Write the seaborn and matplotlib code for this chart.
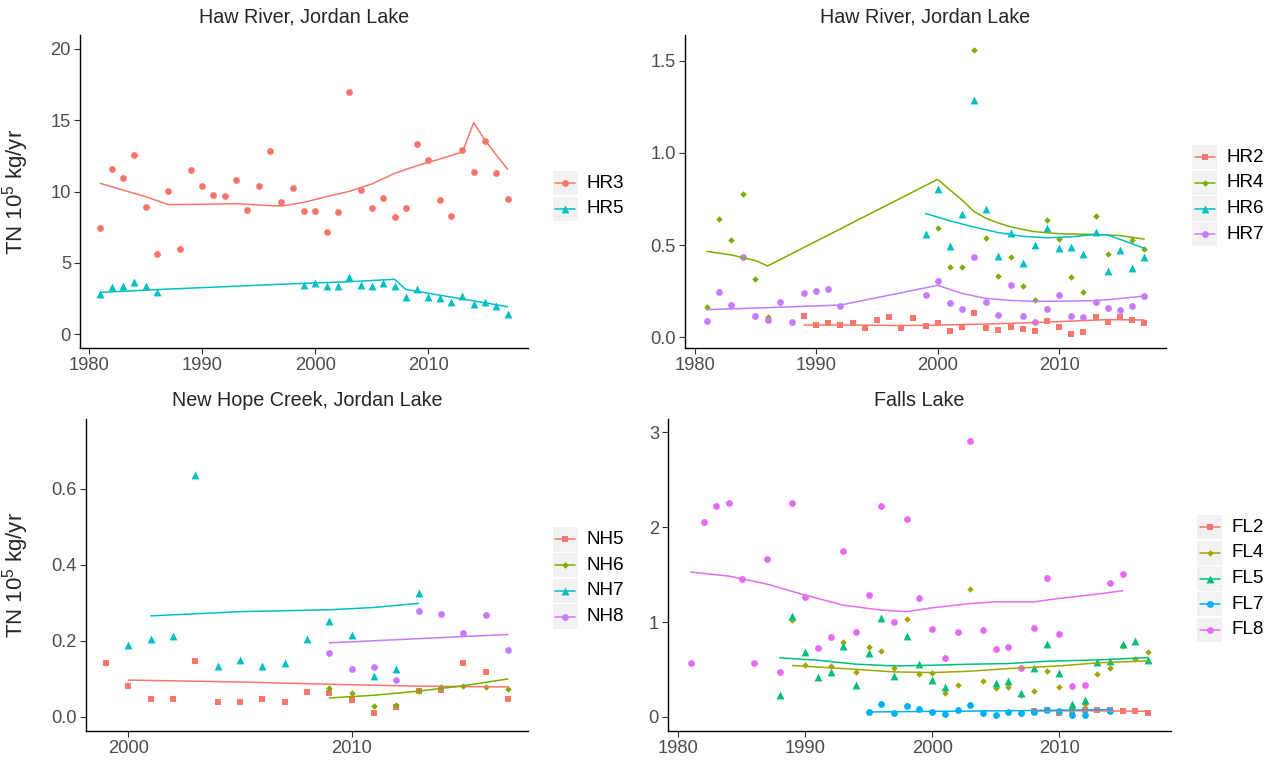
import numpy as np
import pandas as pd
import matplotlib
matplotlib.use("Agg")
import matplotlib.pyplot as plt
import seaborn as sns
from matplotlib.patches import Rectangle

# ---- colours / shapes (ggplot hue palette) ----
RED, CYAN = "#F8766D", "#00BFC4"
GREEN4, PURPLE4 = "#7CAE00", "#C77CFF"
OLIVE5, GREEN5, BLUE5, PINK5 = "#A3A500", "#00BF7D", "#00B0F6", "#E76BF3"

# ---- panel 1: Haw River (HR3, HR5) ----
hr3_years = list(range(1981, 2018))
hr3_tn = [7.42, 11.58, 10.95, 12.58, 8.89, 5.64, 10.04, 5.99, 11.51, 10.41,
          9.75, 9.68, 10.78, 8.70, 10.41, 12.87, 9.26, 10.22, 8.61, 8.65,
          7.18, 8.56, 17.0, 10.13, 8.82, 9.54, 8.21, 8.87, 13.31, 12.19,
          9.38, 8.28, 12.94, 11.37, 13.52, 11.30, 9.50]
hr3_fit_years = [1981, 1983, 1985, 1987, 1990, 1993, 1995, 1997, 1999, 2001,
                 2003, 2005, 2007, 2009, 2011, 2013, 2014, 2015, 2016, 2017]
hr3_fit = [10.57, 10.1, 9.64, 9.08, 9.1, 9.15, 9.05, 8.98, 9.24, 9.64,
           10.01, 10.53, 11.27, 11.81, 12.28, 12.77, 14.83, 13.6, 12.56, 11.56]

hr5_years = [1981, 1982, 1983, 1984, 1985, 1986] + list(range(1999, 2018))
hr5_tn = [2.81, 3.27, 3.37, 3.63, 3.35, 2.92, 3.42, 3.56, 3.39, 3.37, 3.98,
          3.42, 3.37, 3.56, 3.37, 2.60, 3.16, 2.60, 2.50, 2.22, 2.69, 2.13,
          2.27, 1.94, 1.43]
hr5_fit_years = [1981, 1986, 1999, 2003, 2007, 2008, 2010, 2013, 2017]
hr5_fit = [2.92, 3.12, 3.56, 3.67, 3.84, 3.13, 2.86, 2.46, 1.92]

# ---- panel 2: Haw River (HR2, HR4, HR6, HR7) ----
hr2_years = list(range(1989, 2018))
hr2_tn = [0.116, 0.069, 0.076, 0.069, 0.076, 0.051, 0.094, 0.110, 0.051, 0.105,
          0.061, 0.080, 0.036, 0.058, 0.134, 0.051, 0.040, 0.058, 0.043, 0.033,
          0.087, 0.056, 0.018, 0.031, 0.110, 0.083, 0.112, 0.096, 0.078]
hr2_fit_years = [1989, 1993, 1997, 2000, 2004, 2008, 2011, 2014, 2017]
hr2_fit = [0.067, 0.066, 0.064, 0.066, 0.072, 0.080, 0.088, 0.096, 0.094]

hr4_years = [1981, 1982, 1983, 1984, 1985, 1986] + list(range(2000, 2015)) + [2016, 2017]
hr4_tn = [0.164, 0.643, 0.526, 0.779, 0.314, 0.110, 0.593, 0.380, 0.381, 1.560,
          0.539, 0.331, 0.436, 0.280, 0.202, 0.638, 0.531, 0.325, 0.248, 0.656,
          0.454, 0.528, 0.479]
hr4_fit_years = [1981, 1983, 1985, 1986, 2000, 2001, 2002, 2003, 2004, 2005,
                 2006, 2007, 2008, 2010, 2013, 2015, 2017]
hr4_fit = [0.466, 0.447, 0.416, 0.387, 0.857, 0.80, 0.745, 0.682, 0.645, 0.62,
           0.600, 0.585, 0.573, 0.562, 0.558, 0.552, 0.533]

hr6_years = list(range(1999, 2018))
hr6_tn = [0.560, 0.802, 0.497, 0.669, 1.290, 0.696, 0.441, 0.567, 0.405, 0.502,
          0.591, 0.484, 0.490, 0.454, 0.569, 0.361, 0.472, 0.374, 0.434]
hr6_fit_years = [1999, 2001, 2003, 2005, 2007, 2009, 2011, 2013, 2014, 2015, 2017]
hr6_fit = [0.672, 0.632, 0.598, 0.568, 0.548, 0.540, 0.545, 0.558, 0.555, 0.532, 0.483]

hr7_years = list(range(1981, 1993)) + list(range(1999, 2018))
hr7_tn = [0.087, 0.244, 0.174, 0.434, 0.117, 0.096, 0.192, 0.085, 0.240, 0.253,
          0.264, 0.170, 0.231, 0.307, 0.184, 0.154, 0.437, 0.193, 0.121, 0.284,
          0.116, 0.085, 0.155, 0.228, 0.117, 0.112, 0.190, 0.157, 0.146, 0.168,
          0.224]
hr7_fit_years = [1981, 1986, 1992, 2000, 2001, 2002, 2004, 2006, 2008, 2010, 2013, 2015, 2017]
hr7_fit = [0.150, 0.161, 0.175, 0.282, 0.260, 0.238, 0.211, 0.200, 0.195, 0.196,
           0.199, 0.210, 0.224]

# ---- panel 3: New Hope Creek (NH5, NH6, NH7, NH8) ----
nh5_years = list(range(1999, 2018))
nh5_tn = [0.143, 0.081, 0.046, 0.047, 0.146, 0.039, 0.040, 0.047, 0.038, 0.065,
          0.062, 0.045, 0.010, 0.025, 0.067, 0.070, 0.142, 0.117, 0.046]
nh5_fit_years = [2000, 2005, 2009, 2013, 2017]
nh5_fit = [0.097, 0.092, 0.086, 0.081, 0.079]

nh6_years = list(range(2009, 2018))
nh6_tn = [0.077, 0.062, 0.028, 0.032, 0.067, 0.079, 0.082, 0.078, 0.073]
nh6_fit_years = [2009, 2011, 2013, 2015, 2017]
nh6_fit = [0.050, 0.057, 0.068, 0.082, 0.100]

nh7_years = list(range(2000, 2014))
nh7_tn = [0.189, 0.206, 0.214, 0.637, 0.133, 0.151, 0.135, 0.143, 0.204, 0.253,
          0.216, 0.109, 0.125, 0.327]
nh7_fit_years = [2001, 2005, 2009, 2011, 2013]
nh7_fit = [0.266, 0.277, 0.282, 0.288, 0.299]

nh8_years = list(range(2009, 2018))
nh8_tn = [0.169, 0.127, 0.132, 0.098, 0.280, 0.271, 0.220, 0.268, 0.176]
nh8_fit_years = [2009, 2013, 2017]
nh8_fit = [0.195, 0.206, 0.217]

# ---- panel 4: Falls Lake (FL2, FL4, FL5, FL7, FL8) ----
fl2_years = list(range(2008, 2018))
fl2_tn = [0.060, 0.070, 0.046, 0.065, 0.070, 0.078, 0.070, 0.067, 0.067, 0.042]
fl2_fit_years = [2008, 2012, 2017]
fl2_fit = [0.062, 0.066, 0.060]

fl4_years = [1989, 1990] + list(range(1992, 2018))
fl4_tn = [1.02, 0.549, 0.535, 0.795, 0.475, 0.742, 0.70, 0.521, 1.031, 0.457,
          0.468, 0.257, 0.338, 1.344, 0.380, 0.302, 0.317, 0.236, 0.274, 0.489,
          0.320, 0.102, 0.141, 0.457, 0.521, 0.753, 0.616, 0.682]
fl4_fit_years = [1989, 1993, 1997, 2000, 2003, 2006, 2010, 2013, 2017]
fl4_fit = [0.542, 0.510, 0.475, 0.468, 0.482, 0.510, 0.538, 0.570, 0.591]

fl5_years = list(range(1988, 2002)) + list(range(2005, 2018))
fl5_tn = [0.236, 1.062, 0.686, 0.422, 0.475, 0.745, 0.338, 0.679, 1.045, 0.429,
          0.848, 0.563, 0.390, 0.313, 0.359, 0.380, 0.257, 0.521, 0.767, 0.461,
          0.141, 0.183, 0.580, 0.587, 0.774, 0.802, 0.598]
fl5_fit_years = [1988, 1991, 1994, 1997, 2000, 2003, 2006, 2009, 2013, 2017]
fl5_fit = [0.623, 0.598, 0.556, 0.538, 0.545, 0.556, 0.563, 0.587, 0.601, 0.626]

fl7_years = list(range(1995, 2013)) + [2014]
fl7_tn = [0.056, 0.134, 0.042, 0.113, 0.081, 0.056, 0.035, 0.077, 0.127, 0.039,
          0.025, 0.053, 0.039, 0.056, 0.074, 0.067, 0.018, 0.018, 0.067]
fl7_fit_years = [1995, 2005, 2014]
fl7_fit = [0.053, 0.064, 0.077]

fl8_years = list(range(1981, 2013)) + [2014, 2015]
fl8_tn = [0.573, 2.054, 2.227, 2.251, 1.450, 0.566, 1.660, 0.478, 2.251, 1.263,
          0.728, 0.838, 1.752, 0.900, 1.287, 2.223, 0.996, 2.089, 1.252, 0.929,
          0.626, 0.900, 2.909, 0.918, 0.718, 0.742, 0.514, 0.936, 1.463, 0.869,
          0.324, 0.338, 1.407, 1.502]
fl8_fit_years = [1981, 1984, 1987, 1990, 1993, 1996, 1998, 2000, 2003, 2005,
                 2008, 2010, 2013, 2015]
fl8_fit = [1.527, 1.484, 1.400, 1.284, 1.178, 1.126, 1.110, 1.150, 1.195, 1.213,
           1.213, 1.249, 1.295, 1.330]

W, H = 1278, 761
MSIZE = {"o": 24, "^": 32, "s": 20, "D": 11}


def frame(series):
    rows = []
    for site, yrs, vals in series:
        for y, v in zip(yrs, vals):
            rows.append((site, y, v))
    return pd.DataFrame(rows, columns=["site", "year", "tn"])


def draw_panel(ax, points, fits, colors, markers, title, ylim, yticks, ylabels, xticks):
    pts = frame(points)
    fit = frame(fits)
    for site in pts["site"].unique():
        m = markers[site]
        sns.scatterplot(data=pts[pts["site"] == site], x="year", y="tn",
                        color=colors[site], marker=m, s=MSIZE[m],
                        linewidth=0, legend=False, ax=ax, zorder=2)
    sns.lineplot(data=fit, x="year", y="tn", hue="site", palette=colors,
                 estimator=None, lw=1.1, legend=False, ax=ax, zorder=3)
    ax.set_title(title, fontsize=14.2, pad=9)
    ax.set_ylim(*ylim)
    ax.set_yticks(yticks)
    ax.set_yticklabels(ylabels)
    ax.set_xticks(xticks)
    ax.set_xlabel("")
    ax.set_ylabel("")
    for side in ["top", "right"]:
        ax.spines[side].set_visible(False)
    for side in ["left", "bottom"]:
        ax.spines[side].set_color("black")
        ax.spines[side].set_linewidth(1.0)
    ax.tick_params(length=4, width=0.8, color="#333333", labelcolor="#4D4D4D",
                   labelsize=13.2, pad=2.5)


def draw_legend(fig, left, top, labels, colors, markers):
    pitch, kw, kh = 25.7, 25, 24.3
    h = pitch * len(labels)
    lax = fig.add_axes([left / W, 1 - (top + h) / H, 80 / W, h / H])
    lax.set_xlim(0, 80)
    lax.set_ylim(h, 0)
    lax.axis("off")
    for i, lab in enumerate(labels):
        y0 = i * pitch
        yc = y0 + kh / 2
        lax.add_patch(Rectangle((0, y0), kw, kh, fc="#F2F2F2", ec="none"))
        lax.plot([2.5, 22.5], [yc, yc], color=colors[lab], lw=1.1)
        m = markers[lab]
        lax.scatter([12.5], [yc], marker=m, s=MSIZE[m], color=colors[lab], linewidths=0)
        lax.text(34, yc, lab, va="center", ha="left", fontsize=13.6, color="black")


def ax_at(fig, l, t, r, b):
    return fig.add_axes([l / W, 1 - b / H, (r - l) / W, (b - t) / H])


sns.set_style("ticks")
plt.rcParams["font.family"] = ["Liberation Sans", "DejaVu Sans"]
plt.rcParams["mathtext.fontset"] = "custom"
plt.rcParams["mathtext.rm"] = "Liberation Sans"

fig = plt.figure(figsize=(W / 100, H / 100), dpi=100)
ylab = r"TN $\mathregular{10^5}$ kg/yr"
dec_ticks = [1980, 1990, 2000, 2010]

# panel 1
c1 = {"HR3": RED, "HR5": CYAN}
m1 = {"HR3": "o", "HR5": "^"}
ax1 = ax_at(fig, 80, 35, 528, 348)
draw_panel(ax1,
           [("HR3", hr3_years, hr3_tn), ("HR5", hr5_years, hr5_tn)],
           [("HR3", hr3_fit_years, hr3_fit), ("HR5", hr5_fit_years, hr5_fit)],
           c1, m1, "Haw River, Jordan Lake", (-0.98, 20.98),
           [0, 5, 10, 15, 20], ["0", "5", "10", "15", "20"], dec_ticks)
ax1.set_xlim(1979.2, 2018.8)
ax1.set_ylabel(ylab, fontsize=16)
ax1.yaxis.set_label_coords(-0.11, 0.5)
draw_legend(fig, 552.7, 171, ["HR3", "HR5"], c1, m1)

# panel 2
c2 = {"HR2": RED, "HR4": GREEN4, "HR6": CYAN, "HR7": PURPLE4}
m2 = {"HR2": "s", "HR4": "D", "HR6": "^", "HR7": "o"}
ax2 = ax_at(fig, 685, 35, 1166, 348)
draw_panel(ax2,
           [("HR2", hr2_years, hr2_tn), ("HR4", hr4_years, hr4_tn),
            ("HR6", hr6_years, hr6_tn), ("HR7", hr7_years, hr7_tn)],
           [("HR2", hr2_fit_years, hr2_fit), ("HR4", hr4_fit_years, hr4_fit),
            ("HR6", hr6_fit_years, hr6_fit), ("HR7", hr7_fit_years, hr7_fit)],
           c2, m2, "Haw River, Jordan Lake", (-0.058, 1.64),
           [0, 0.5, 1.0, 1.5], ["0.0", "0.5", "1.0", "1.5"], dec_ticks)
ax2.set_xlim(1979.2, 2018.8)
draw_legend(fig, 1192, 145, ["HR2", "HR4", "HR6", "HR7"], c2, m2)

# panel 3
c3 = {"NH5": RED, "NH6": GREEN4, "NH7": CYAN, "NH8": PURPLE4}
m3 = {"NH5": "s", "NH6": "D", "NH7": "^", "NH8": "o"}
ax3 = ax_at(fig, 86, 419, 528, 731)
draw_panel(ax3,
           [("NH5", nh5_years, nh5_tn), ("NH6", nh6_years, nh6_tn),
            ("NH7", nh7_years, nh7_tn), ("NH8", nh8_years, nh8_tn)],
           [("NH5", nh5_fit_years, nh5_fit), ("NH6", nh6_fit_years, nh6_fit),
            ("NH7", nh7_fit_years, nh7_fit), ("NH8", nh8_fit_years, nh8_fit)],
           c3, m3, "New Hope Creek, Jordan Lake", (-0.037, 0.784),
           [0, 0.2, 0.4, 0.6], ["0.0", "0.2", "0.4", "0.6"], [2000, 2010])
ax3.set_xlim(1998.1, 2017.9)
ax3.set_ylabel(ylab, fontsize=16)
ax3.yaxis.set_label_coords(-0.125, 0.5)
draw_legend(fig, 552.7, 527.3, ["NH5", "NH6", "NH7", "NH8"], c3, m3)

# panel 4
c4 = {"FL2": RED, "FL4": OLIVE5, "FL5": GREEN5, "FL7": BLUE5, "FL8": PINK5}
m4 = {"FL2": "s", "FL4": "D", "FL5": "^", "FL7": "o", "FL8": "o"}
ax4 = ax_at(fig, 668, 419, 1171, 731)
draw_panel(ax4,
           [("FL2", fl2_years, fl2_tn), ("FL4", fl4_years, fl4_tn),
            ("FL5", fl5_years, fl5_tn), ("FL7", fl7_years, fl7_tn),
            ("FL8", fl8_years, fl8_tn)],
           [("FL2", fl2_fit_years, fl2_fit), ("FL4", fl4_fit_years, fl4_fit),
            ("FL5", fl5_fit_years, fl5_fit), ("FL7", fl7_fit_years, fl7_fit),
            ("FL8", fl8_fit_years, fl8_fit)],
           c4, m4, "Falls Lake", (-0.148, 3.14),
           [0, 1, 2, 3], ["0", "1", "2", "3"], dec_ticks)
ax4.set_xlim(1979.2, 2018.8)
draw_legend(fig, 1197.3, 515, ["FL2", "FL4", "FL5", "FL7", "FL8"], c4, m4)

fig.savefig("out.png", dpi=100)
